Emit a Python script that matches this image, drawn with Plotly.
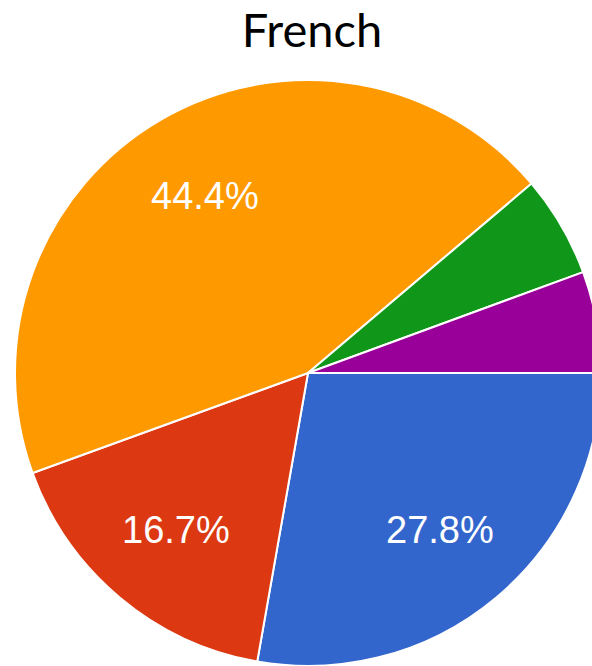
import math
import plotly.graph_objects as go

labels = ["A", "B", "C", "D", "E"]
values = [27.8, 16.7, 44.4, 5.6, 5.6]
colors = ["#3366CC", "#DC3912", "#FF9900", "#109618", "#990099"]
shown = [True, True, True, False, False]
title = "French"

W, H = 620, 666
L, R, T, B = 15, 19, 80, 0
rotation = 90
pw, ph = W - L - R, H - T - B
rad = min(pw, ph) / 2
cx, cy = L + pw / 2, T + ph / 2

fig = go.Figure(go.Pie(
    labels=labels, values=values, sort=False, direction="clockwise",
    rotation=rotation, marker=dict(colors=colors, line=dict(color="white", width=2)),
    textinfo="none", hoverinfo="skip", showlegend=False,
    domain=dict(x=[0, 1], y=[0, 1]),
))

total = sum(values)
cum = 0
for v, s in zip(values, shown):
    mid = math.radians(rotation + 360 * (cum + v / 2) / total)
    cum += v
    if not s:
        continue
    px = cx + 0.7 * rad * math.sin(mid)
    py = cy - 0.7 * rad * math.cos(mid)
    fig.add_annotation(
        x=(px - L) / pw, y=(H - B - py) / ph, xref="paper", yref="paper",
        text=f"{v / total * 100:.1f}%", showarrow=False,
        font=dict(family="Liberation Sans, Arial", size=38, color="white"),
        xanchor="center", yanchor="middle",
    )

fig.update_layout(
    width=W, height=H, margin=dict(l=L, r=R, t=T, b=B),
    paper_bgcolor="white", plot_bgcolor="white",
    title=dict(text=title, x=(312) / W, xanchor="center", xref="container",
               y=1 - 31 / H, yanchor="middle", yref="container",
               font=dict(family="Lato, Open Sans, sans-serif", size=47, color="black")),
)

fig.write_html("out.html", post_script=(
    "document.body.style.margin='0';"
    "document.body.style.overflow='hidden';"
    "document.documentElement.style.overflow='hidden';"
))
